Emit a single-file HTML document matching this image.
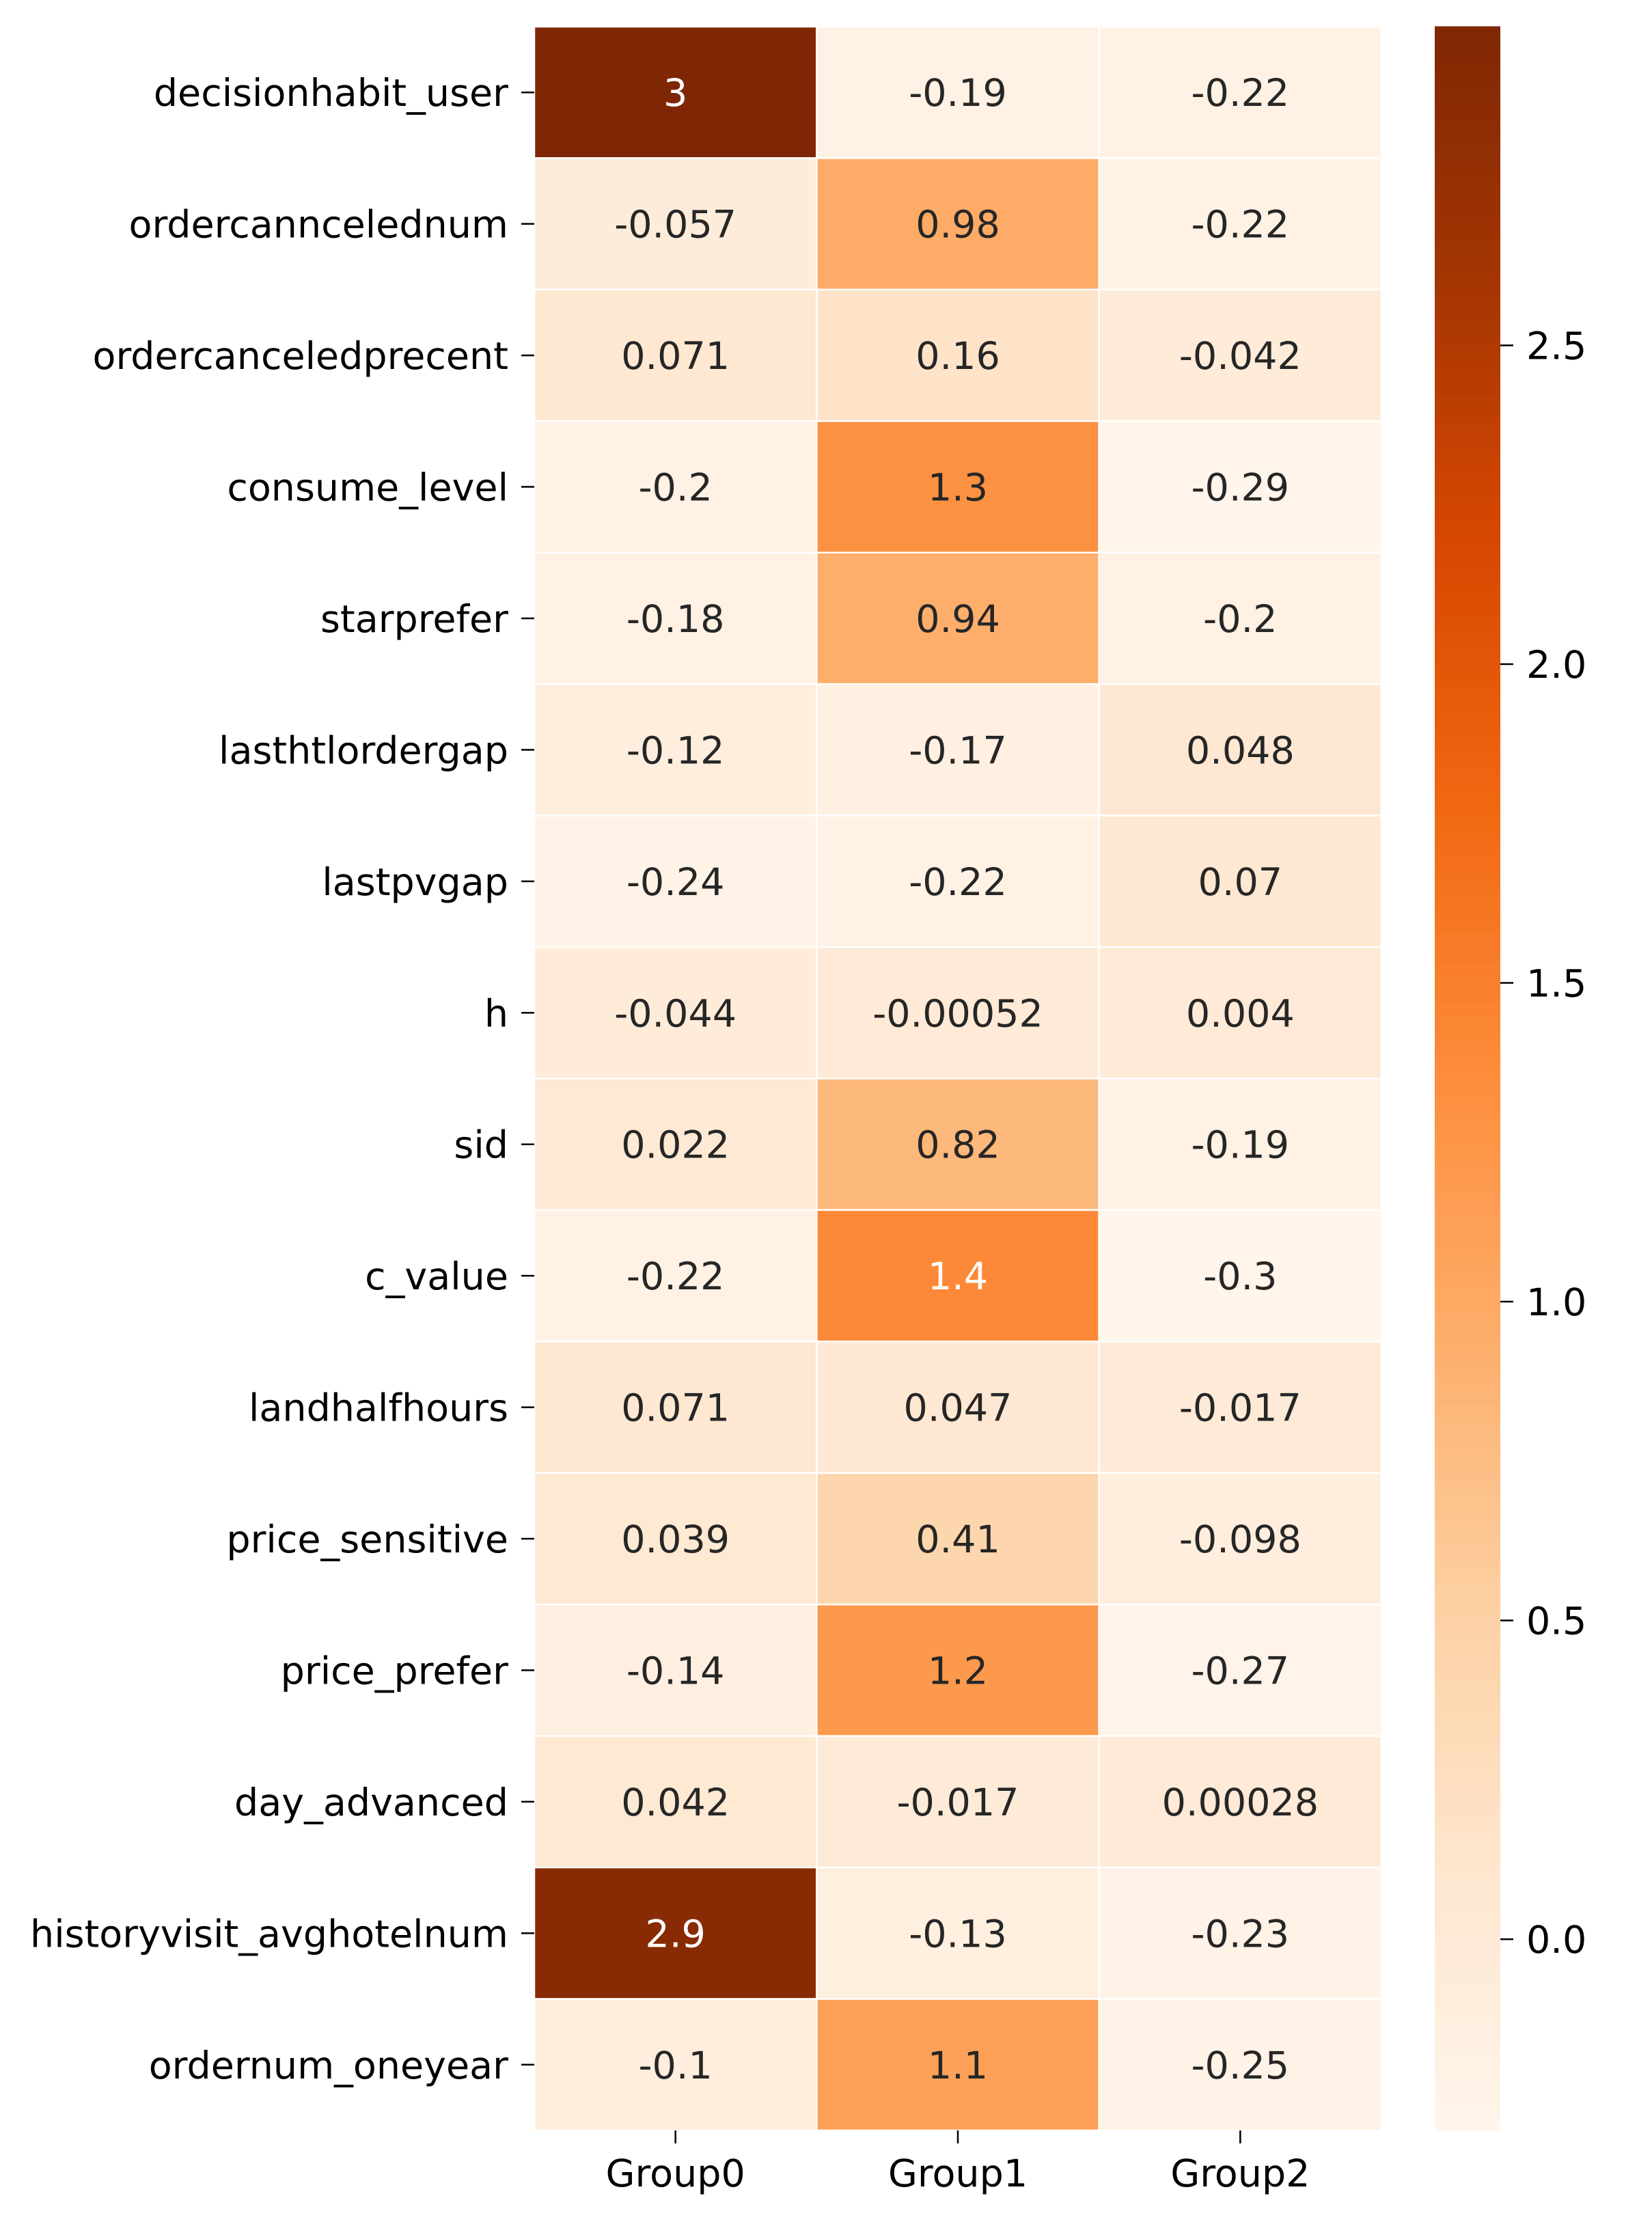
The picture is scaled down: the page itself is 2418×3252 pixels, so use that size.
<!DOCTYPE html>
<html><head><meta charset="utf-8"><style>body{margin:0;background:#fff}svg{display:block}</style></head>
<body>
<svg id="chart" width="2418" height="3252" xmlns="http://www.w3.org/2000/svg" font-family="DejaVu Sans, Liberation Sans, sans-serif"></svg>
<script>
const rowLabels = ["decisionhabit_user","ordercanncelednum","ordercanceledprecent","consume_level","starprefer","lasthtlordergap","lastpvgap","h","sid","c_value","landhalfhours","price_sensitive","price_prefer","day_advanced","historyvisit_avghotelnum","ordernum_oneyear"];
const colLabels = ["Group0","Group1","Group2"];
const group0 = [3,-0.057,0.071,-0.2,-0.18,-0.12,-0.24,-0.044,0.022,-0.22,0.071,0.039,-0.14,0.042,2.9,-0.1];
const group1 = [-0.19,0.98,0.16,1.3,0.94,-0.17,-0.22,-0.00052,0.82,1.4,0.047,0.41,1.2,-0.017,-0.13,1.1];
const group2 = [-0.22,-0.22,-0.042,-0.29,-0.2,0.048,0.07,0.004,-0.19,-0.3,-0.017,-0.098,-0.27,0.00028,-0.23,-0.25];
const cbTicks = [0.0,0.5,1.0,1.5,2.0,2.5];
const vmin = -0.3, vmax = 3.0;

const NS = "http://www.w3.org/2000/svg";
const svg = document.getElementById("chart");
const L = 782, T = 39, R = 2022, B = 3118;
const cw = (R - L) / colLabels.length, rh = (B - T) / rowLabels.length;
const CBL = 2100, CBR = 2196;
const FS = 55.5;
const stops = ["#fff5eb","#fee6ce","#fdd0a2","#fdae6b","#fd8d3c","#f16913","#d94801","#a63603","#7f2704"].map(h=>[parseInt(h.slice(1,3),16),parseInt(h.slice(3,5),16),parseInt(h.slice(5,7),16)]);
function cmap(v){
  let t = Math.max(0, Math.min(1, (v - vmin) / (vmax - vmin))) * (stops.length - 1);
  let i = Math.min(Math.floor(t), stops.length - 2), f = t - i;
  return stops[i].map((c,k)=>Math.round(c + (stops[i+1][k]-c)*f));
}
function lum(c){ const s=c.map(x=>{x/=255;return x<=0.03928?x/12.92:Math.pow((x+0.055)/1.055,2.4)}); return 0.2126*s[0]+0.7152*s[1]+0.0722*s[2]; }
function yCb(v){ return B - (v - vmin) / (vmax - vmin) * (B - T); }
function el(tag, attrs, text){ const e=document.createElementNS(NS,tag); for(const k in attrs) e.setAttribute(k,attrs[k]); if(text!==undefined) e.textContent=text; svg.appendChild(e); return e; }
const series = [group0, group1, group2];
series.forEach((vals, ci) => {
  vals.forEach((v, ri) => {
    const c = cmap(v);
    const r = el("rect",{x:L+ci*cw,y:T+ri*rh,width:cw,height:rh,fill:`rgb(${c})`,stroke:"#fff","stroke-width":2.5});
    
    
    const t = el("text",{x:L+(ci+0.5)*cw,y:T+(ri+0.5)*rh+20,"text-anchor":"middle","font-size":FS,fill:lum(c)>0.408?"#262626":"#ffffff"}, String(v));
    
    
  });
});
rowLabels.forEach((lab, ri) => {
  const y = T + (ri + 0.5) * rh;
  const tk = el("line",{x1:L-19,x2:L,y1:y,y2:y,stroke:"#000","stroke-width":2.5});
  
  
  const t = el("text",{x:L-38,y:y+20,"text-anchor":"end","font-size":FS,fill:"#000"}, lab);
  
  
});
colLabels.forEach((lab, ci) => {
  const x = L + (ci + 0.5) * cw;
  const tk = el("line",{x1:x,x2:x,y1:B,y2:B+19,stroke:"#000","stroke-width":2.5});
  
  
  const t = el("text",{x:x,y:B+82,"text-anchor":"middle","font-size":FS,fill:"#000"}, lab);
  
  
});
const N = 200;
for (let i = 0; i < N; i++) {
  const v0 = vmin + (vmax - vmin) * i / N, v1 = vmin + (vmax - vmin) * (i + 1) / N;
  const c = cmap((v0 + v1) / 2);
  const r = el("rect",{x:CBL,y:yCb(v1)-0.5,width:CBR-CBL,height:yCb(v0)-yCb(v1)+1,fill:`rgb(${c})`});
  
  
}
cbTicks.forEach(v => {
  const y = yCb(v);
  const tk = el("line",{x1:CBR,x2:CBR+19,y1:y,y2:y,stroke:"#000","stroke-width":2.5});
  
  
  const t = el("text",{x:CBR+38,y:y+20,"font-size":FS,fill:"#000"}, v.toFixed(1));
  
  
});
</script>
</body></html>
